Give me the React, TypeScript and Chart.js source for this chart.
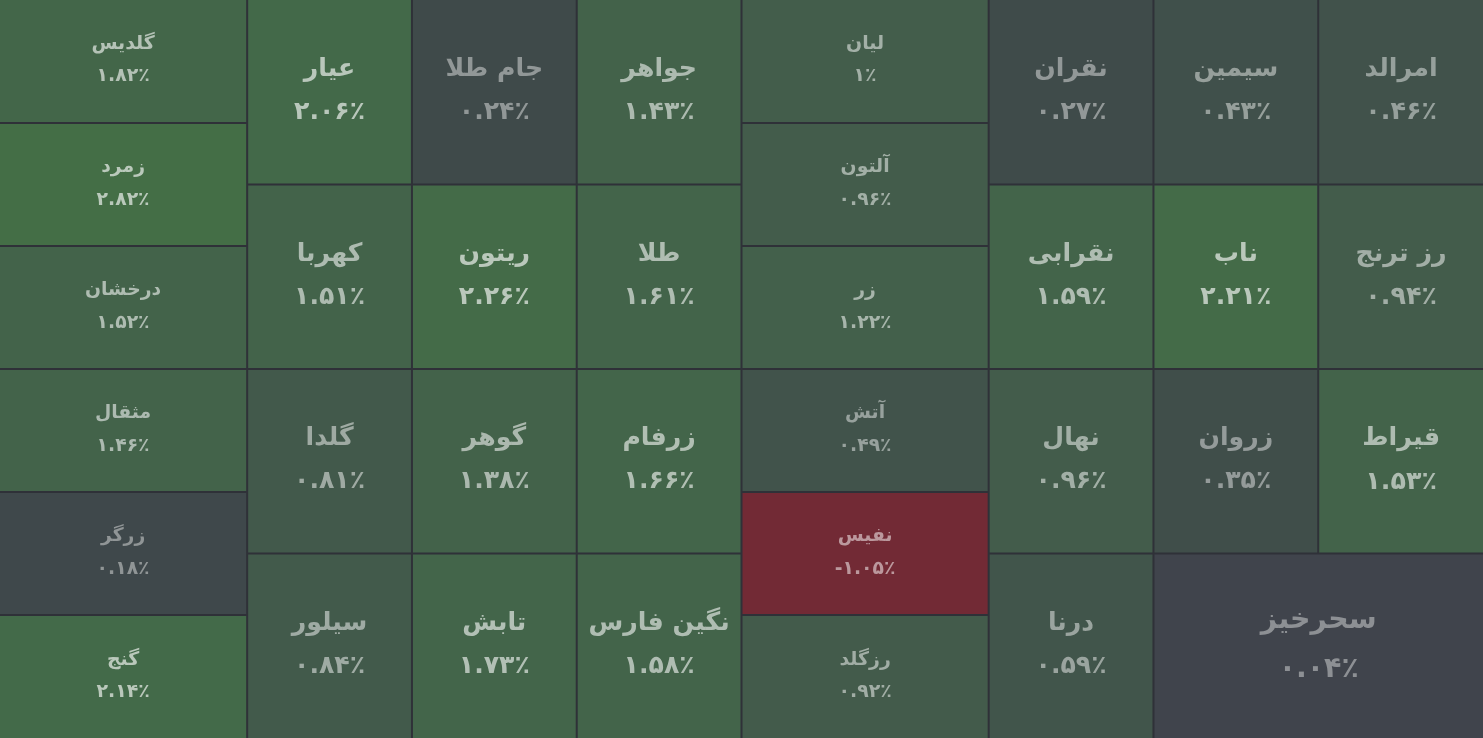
import { useEffect, useRef } from 'react';
import { Chart, registerables } from 'chart.js';

Chart.register(...registerables);

// ---- data ----
const sectors: number[] = [
  0, 0, 0, 0, 0, 0,
  1, 1, 1, 1, 1, 1, 1, 1, 1, 1, 1, 1,
  2, 2, 2, 2, 2, 2,
  3, 3, 3, 3, 3, 3, 3, 3, 3, 3, 3,
];
const names: string[] = [
  'گلدیس', 'زمرد', 'درخشان', 'مثقال', 'زرگر', 'گنج',
  'عیار', 'جام طلا', 'جواهر', 'کهربا', 'ریتون', 'طلا', 'گلدا', 'گوهر', 'زرفام', 'سیلور', 'تابش', 'نگین فارس',
  'لیان', 'آلتون', 'زر', 'آتش', 'نفیس', 'رزگلد',
  'نقران', 'سیمین', 'امرالد', 'نقرابی', 'ناب', 'رز ترنج', 'نهال', 'زروان', 'قیراط', 'درنا', 'سحرخیز',
];
const changes: number[] = [
  1.82, 2.82, 1.52, 1.46, 0.18, 2.14,
  2.06, 0.24, 1.43, 1.51, 2.26, 1.61, 0.81, 1.38, 1.66, 0.84, 1.73, 1.58,
  1, 0.96, 1.22, 0.49, -1.05, 0.92,
  0.27, 0.43, 0.46, 1.59, 2.21, 0.94, 0.96, 0.35, 1.53, 0.59, 0.04,
];
const weights: number[] = [
  1, 1, 1, 1, 1, 1,
  1, 1, 1, 1, 1, 1, 1, 1, 1, 1, 1, 1,
  1, 1, 1, 1, 1, 1,
  1, 1, 1, 1, 1, 1, 1, 1, 1, 1, 2,
];

// ---- colours ----
const posStops: [number, number[]][] = [
  [0, [64, 67, 76]],
  [0.25, [63, 74, 74]],
  [0.5, [65, 83, 75]],
  [1.0, [67, 93, 75]],
  [1.5, [67, 99, 74]],
  [2.0, [67, 104, 73]],
  [2.3, [68, 108, 72]],
  [2.85, [68, 110, 70]],
];
const negStops: [number, number[]][] = [
  [0, [64, 67, 76]],
  [1.05, [114, 42, 53]],
];

function interp(stops: [number, number[]][], v: number): number[] {
  if (v <= stops[0][0]) return stops[0][1];
  for (let i = 1; i < stops.length; i++) {
    if (v <= stops[i][0]) {
      const [a, ca] = stops[i - 1];
      const [b, cb] = stops[i];
      const t = (v - a) / (b - a);
      return ca.map((c, k) => c + (cb[k] - c) * t);
    }
  }
  return stops[stops.length - 1][1];
}
function cellRGB(v: number): number[] {
  return v >= 0 ? interp(posStops, v) : interp(negStops, -v);
}
function rgb(c: number[]) {
  return `rgb(${Math.round(c[0])},${Math.round(c[1])},${Math.round(c[2])})`;
}
function textRGB(v: number): string {
  const c = cellRGB(v);
  const a = Math.min(0.63, 0.4 + 0.11 * Math.abs(v));
  return rgb(c.map((x) => x + (255 - x) * a));
}

const faDigits = '۰۱۲۳۴۵۶۷۸۹';
function fmt(v: number): string {
  const s = String(v).replace(/[0-9]/g, (d) => faDigits[+d]);
  return s + '٪';
}

// ---- squarified layout (row direction fixed per container) ----
type R = { x: number; y: number; w: number; h: number };
function worst(row: number[], side: number): number {
  const s = row.reduce((a, b) => a + b, 0);
  let m = 0;
  for (const a of row) {
    m = Math.max(m, (side * side * a) / (s * s), (s * s) / (side * side * a));
  }
  return m;
}
function squarify(ws: number[], rect: R): R[] {
  const total = ws.reduce((a, b) => a + b, 0);
  const k = (rect.w * rect.h) / total;
  const areas = ws.map((w) => w * k);
  const out: R[] = [];
  const vertical = rect.w >= rect.h;
  let r = { ...rect };
  let i = 0;
  while (i < areas.length) {
    const side = vertical ? r.h : r.w;
    let row = [areas[i]];
    let best = worst(row, side);
    let j = i + 1;
    while (j < areas.length) {
      const cand = [...row, areas[j]];
      const wv = worst(cand, side);
      if (wv < best * 0.98) {
        row = cand;
        best = wv;
        j++;
      } else break;
    }
    const sum = row.reduce((a, b) => a + b, 0);
    const thick = sum / side;
    let off = 0;
    for (const a of row) {
      const len = a / thick;
      if (vertical) out.push({ x: r.x, y: r.y + off, w: thick, h: len });
      else out.push({ x: r.x + off, y: r.y, w: len, h: thick });
      off += len;
    }
    if (vertical) r = { x: r.x + thick, y: r.y, w: r.w - thick, h: r.h };
    else r = { x: r.x, y: r.y + thick, w: r.w, h: r.h - thick };
    i = j;
  }
  return out;
}

function buildCells(W: number, H: number) {
  const groupIds = Array.from(new Set(sectors));
  const groupW = groupIds.map((g) =>
    weights.reduce((s, w, i) => (sectors[i] === g ? s + w : s), 0)
  );
  const groupRects = squarify(groupW, { x: 0, y: 0, w: W, h: H });
  const cells: any[] = [];
  groupIds.forEach((g, gi) => {
    const idx = sectors.map((s, i) => (s === g ? i : -1)).filter((i) => i >= 0);
    const rs = squarify(idx.map((i) => weights[i]), groupRects[gi]);
    idx.forEach((i, k) => {
      const r = rs[k];
      cells.push({
        x: (r.x + r.w / 2) / W,
        y: (r.y + r.h / 2) / H,
        x0: r.x / W,
        x1: (r.x + r.w) / W,
        y0: r.y / H,
        y1: (r.y + r.h) / H,
        name: names[i],
        change: changes[i],
      });
    });
  });
  return cells;
}

const treemapPlugin = {
  id: 'treemapCells',
  beforeDraw(chart: any) {
    const { ctx, width, height } = chart;
    ctx.save();
    ctx.fillStyle = '#2f3138';
    ctx.fillRect(0, 0, width, height);
    ctx.restore();
  },
  afterDatasetsDraw(chart: any) {
    const { ctx } = chart;
    const xs = chart.scales.x;
    const ys = chart.scales.y;
    const eps = 1e-6;
    chart.data.datasets[0].data.forEach((c: any) => {
      let l = xs.getPixelForValue(c.x0);
      let r = xs.getPixelForValue(c.x1);
      let t = ys.getPixelForValue(c.y0);
      let b = ys.getPixelForValue(c.y1);
      if (c.x0 > eps) l += 1;
      if (c.x1 < 1 - eps) r -= 1;
      if (c.y0 > eps) t += 1;
      if (c.y1 < 1 - eps) b -= 1;
      ctx.save();
      ctx.fillStyle = rgb(cellRGB(c.change));
      ctx.fillRect(l, t, r - l, b - t);
      const w = r - l;
      const h = b - t;
      const fs = Math.min(w, h) * 0.155;
      const cx = (l + r) / 2;
      const cy = (t + b) / 2 - 1;
      ctx.fillStyle = textRGB(c.change);
      ctx.textAlign = 'center';
      ctx.textBaseline = 'middle';
      ctx.font = `bold ${fs.toFixed(1)}px "DejaVu Sans", sans-serif`;
      ctx.fillText(c.name, cx, cy - fs * 0.86);
      ctx.fillText(fmt(c.change), cx, cy + fs * 0.86);
      ctx.restore();
    });
  },
};

export default function App() {
  const ref = useRef<HTMLCanvasElement>(null);
  useEffect(() => {
    document.body.style.margin = '0';
    const canvas = ref.current!;
    const cells = buildCells(canvas.width, canvas.height);
    const chart = new Chart(canvas, {
      type: 'scatter',
      data: {
        labels: names,
        datasets: [
          {
            label: 'change',
            data: cells,
            pointRadius: 0,
            pointHoverRadius: 0,
          },
        ],
      },
      options: {
        responsive: false,
        animation: false,
        events: [],
        layout: { padding: 0 },
        plugins: { legend: { display: false }, tooltip: { enabled: false } },
        scales: {
          x: { type: 'linear', min: 0, max: 1, display: false },
          y: { type: 'linear', min: 0, max: 1, reverse: true, display: false },
        },
      },
      plugins: [treemapPlugin],
    });
    return () => chart.destroy();
  }, []);
  return <canvas ref={ref} width={1483} height={738} style={{ display: 'block' }} />;
}
